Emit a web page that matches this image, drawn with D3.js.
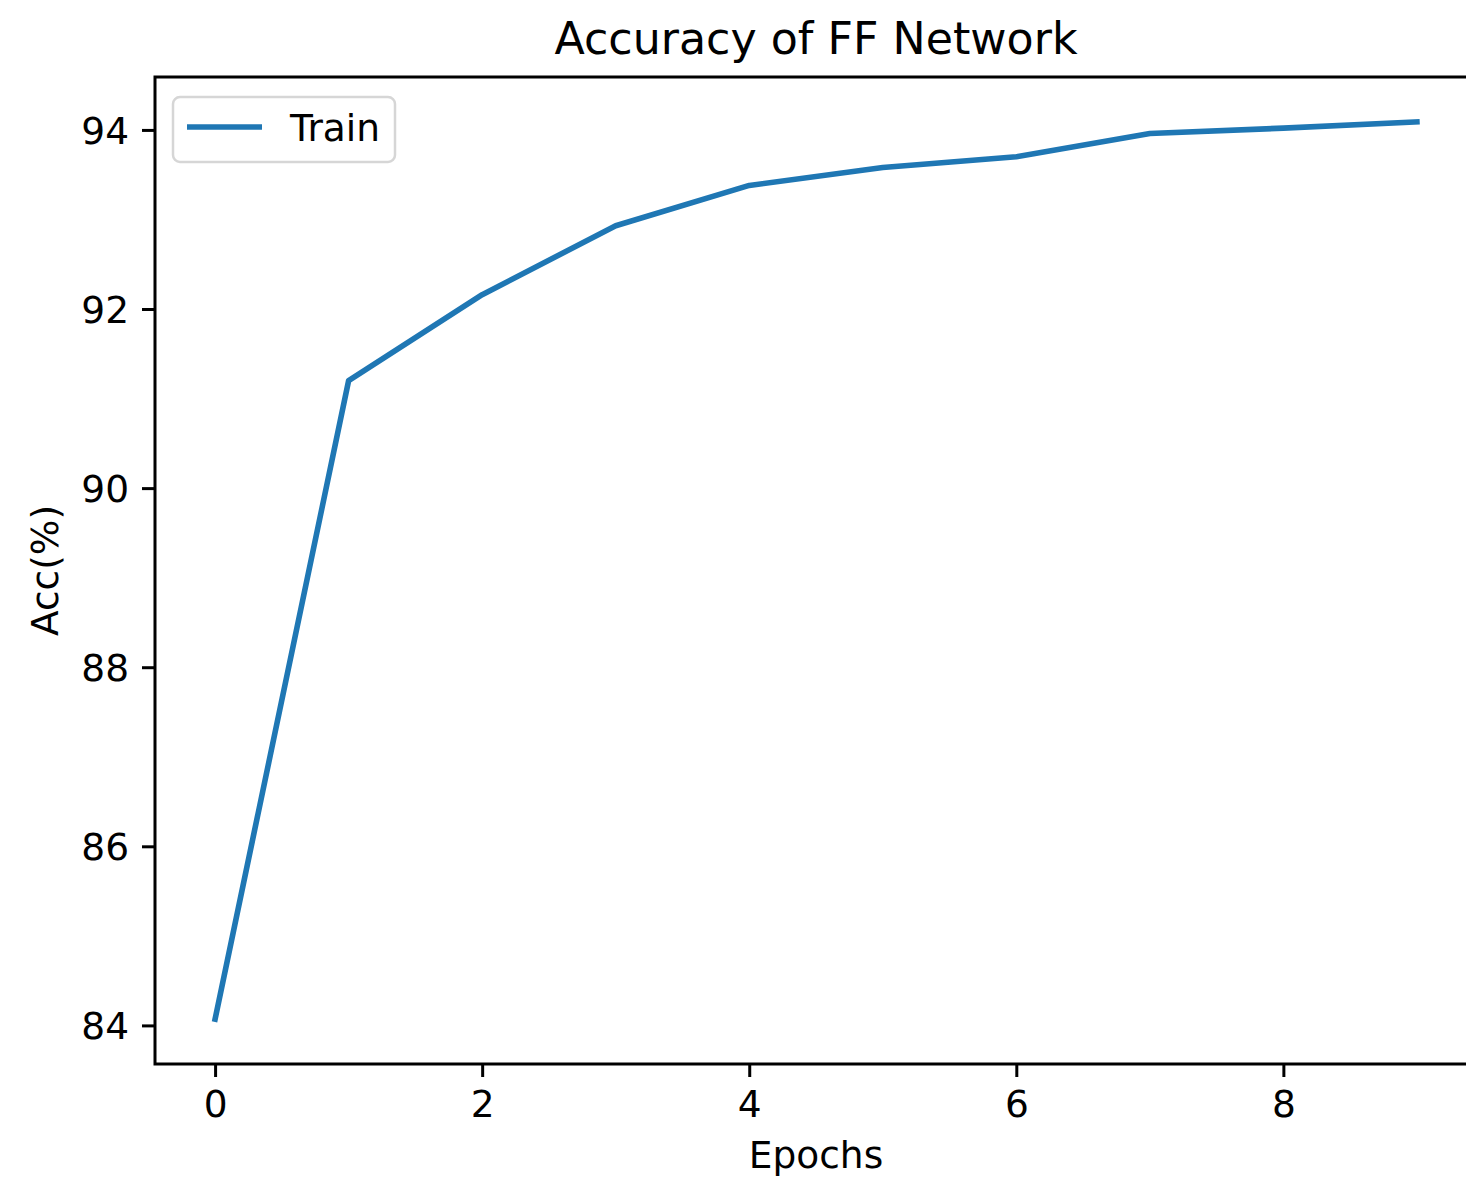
<!DOCTYPE html>
<html>
<head>
<meta charset="utf-8">
<script src="https://cdn.jsdelivr.net/npm/d3@7"></script>
<style>
  html, body { margin: 0; padding: 0; background: #fff; }
  svg { display: block; font-family: "DejaVu Sans", sans-serif; }
</style>
</head>
<body>
<svg id="chart" width="1466" height="1185"></svg>
<script>
// Training accuracy per epoch
const epochs = [0, 1, 2, 3, 4, 5, 6, 7, 8, 9];
const trainAcc = [84.07, 91.20, 92.16, 92.93, 93.38, 93.58, 93.70, 93.96, 94.02, 94.09];
const xTicks = [0, 2, 4, 6, 8];
const yTicks = [84, 86, 88, 90, 92, 94];
const seriesName = "Train";

const svg = d3.select("#chart");
const margin = { left: 155, top: 77, right: 1477, bottom: 1064 };

// 5% padding on both axes around the data range
const xMin = d3.min(epochs), xMax = d3.max(epochs);
const xPad = (xMax - xMin) * 0.05;
const yMin = d3.min(trainAcc), yMax = d3.max(trainAcc);
const yPad = (yMax - yMin) * 0.05;

const x = d3.scaleLinear().domain([xMin - xPad, xMax + xPad]).range([margin.left, margin.right]);
const y = d3.scaleLinear().domain([yMin - yPad, yMax + yPad]).range([margin.bottom, margin.top]);

const fontSize = 37.5;
const tickLen = 13;
const color = "#1f77b4";

// Line
const line = d3.line().x((d, i) => x(epochs[i])).y(d => y(d));
svg.append("path")
  .datum(trainAcc)
  .attr("d", line)
  .attr("fill", "none")
  .attr("stroke", color)
  .attr("stroke-width", 5.6)
  .attr("stroke-linejoin", "round")
  .attr("stroke-linecap", "square");

// Axes
const xAxis = d3.axisBottom(x).tickValues(xTicks).tickFormat(d3.format("d"))
  .tickSizeInner(tickLen).tickSizeOuter(0).tickPadding(13);
const yAxis = d3.axisLeft(y).tickValues(yTicks).tickFormat(d3.format("d"))
  .tickSizeInner(tickLen).tickSizeOuter(0).tickPadding(13);

const gx = svg.append("g").attr("transform", `translate(0,${margin.bottom})`).call(xAxis);
const gy = svg.append("g").attr("transform", `translate(${margin.left},0)`).call(yAxis);

[gx, gy].forEach(g => {
  g.select(".domain").remove();
  g.selectAll(".tick line").attr("stroke", "#000").attr("stroke-width", 3);
  g.selectAll(".tick text")
    .attr("fill", "#000")
    .style("font-size", fontSize + "px")
    .style("font-family", "'DejaVu Sans', sans-serif");
});
gx.selectAll(".tick text").attr("dy", "0.71em");
gy.selectAll(".tick text").attr("dy", "0.35em");

// Frame (spines)
svg.append("rect")
  .attr("x", margin.left)
  .attr("y", margin.top)
  .attr("width", margin.right - margin.left)
  .attr("height", margin.bottom - margin.top)
  .attr("fill", "none")
  .attr("stroke", "#000")
  .attr("stroke-width", 3);

// Title and axis labels
svg.append("text")
  .attr("x", (margin.left + margin.right) / 2)
  .attr("y", 54)
  .attr("text-anchor", "middle")
  .style("font-size", "44.3px")
  .text("Accuracy of FF Network");

svg.append("text")
  .attr("x", (margin.left + margin.right) / 2)
  .attr("y", 1168)
  .attr("text-anchor", "middle")
  .style("font-size", fontSize + "px")
  .text("Epochs");

svg.append("text")
  .attr("transform", `translate(58,${(margin.top + margin.bottom) / 2}) rotate(-90)`)
  .attr("text-anchor", "middle")
  .style("font-size", fontSize + "px")
  .text("Acc(%)");

// Legend
const legend = svg.append("g");
legend.append("rect")
  .attr("x", 173).attr("y", 97)
  .attr("width", 222).attr("height", 65)
  .attr("rx", 7).attr("ry", 7)
  .attr("fill", "#fff")
  .attr("fill-opacity", 0.8)
  .attr("stroke", "#d6d6d6")
  .attr("stroke-width", 2.5);
legend.append("line")
  .attr("x1", 187).attr("x2", 262)
  .attr("y1", 127).attr("y2", 127)
  .attr("stroke", color)
  .attr("stroke-width", 5.6);
legend.append("text")
  .attr("x", 290).attr("y", 141)
  .style("font-size", fontSize + "px")
  .text(seriesName);
</script>
</body>
</html>
